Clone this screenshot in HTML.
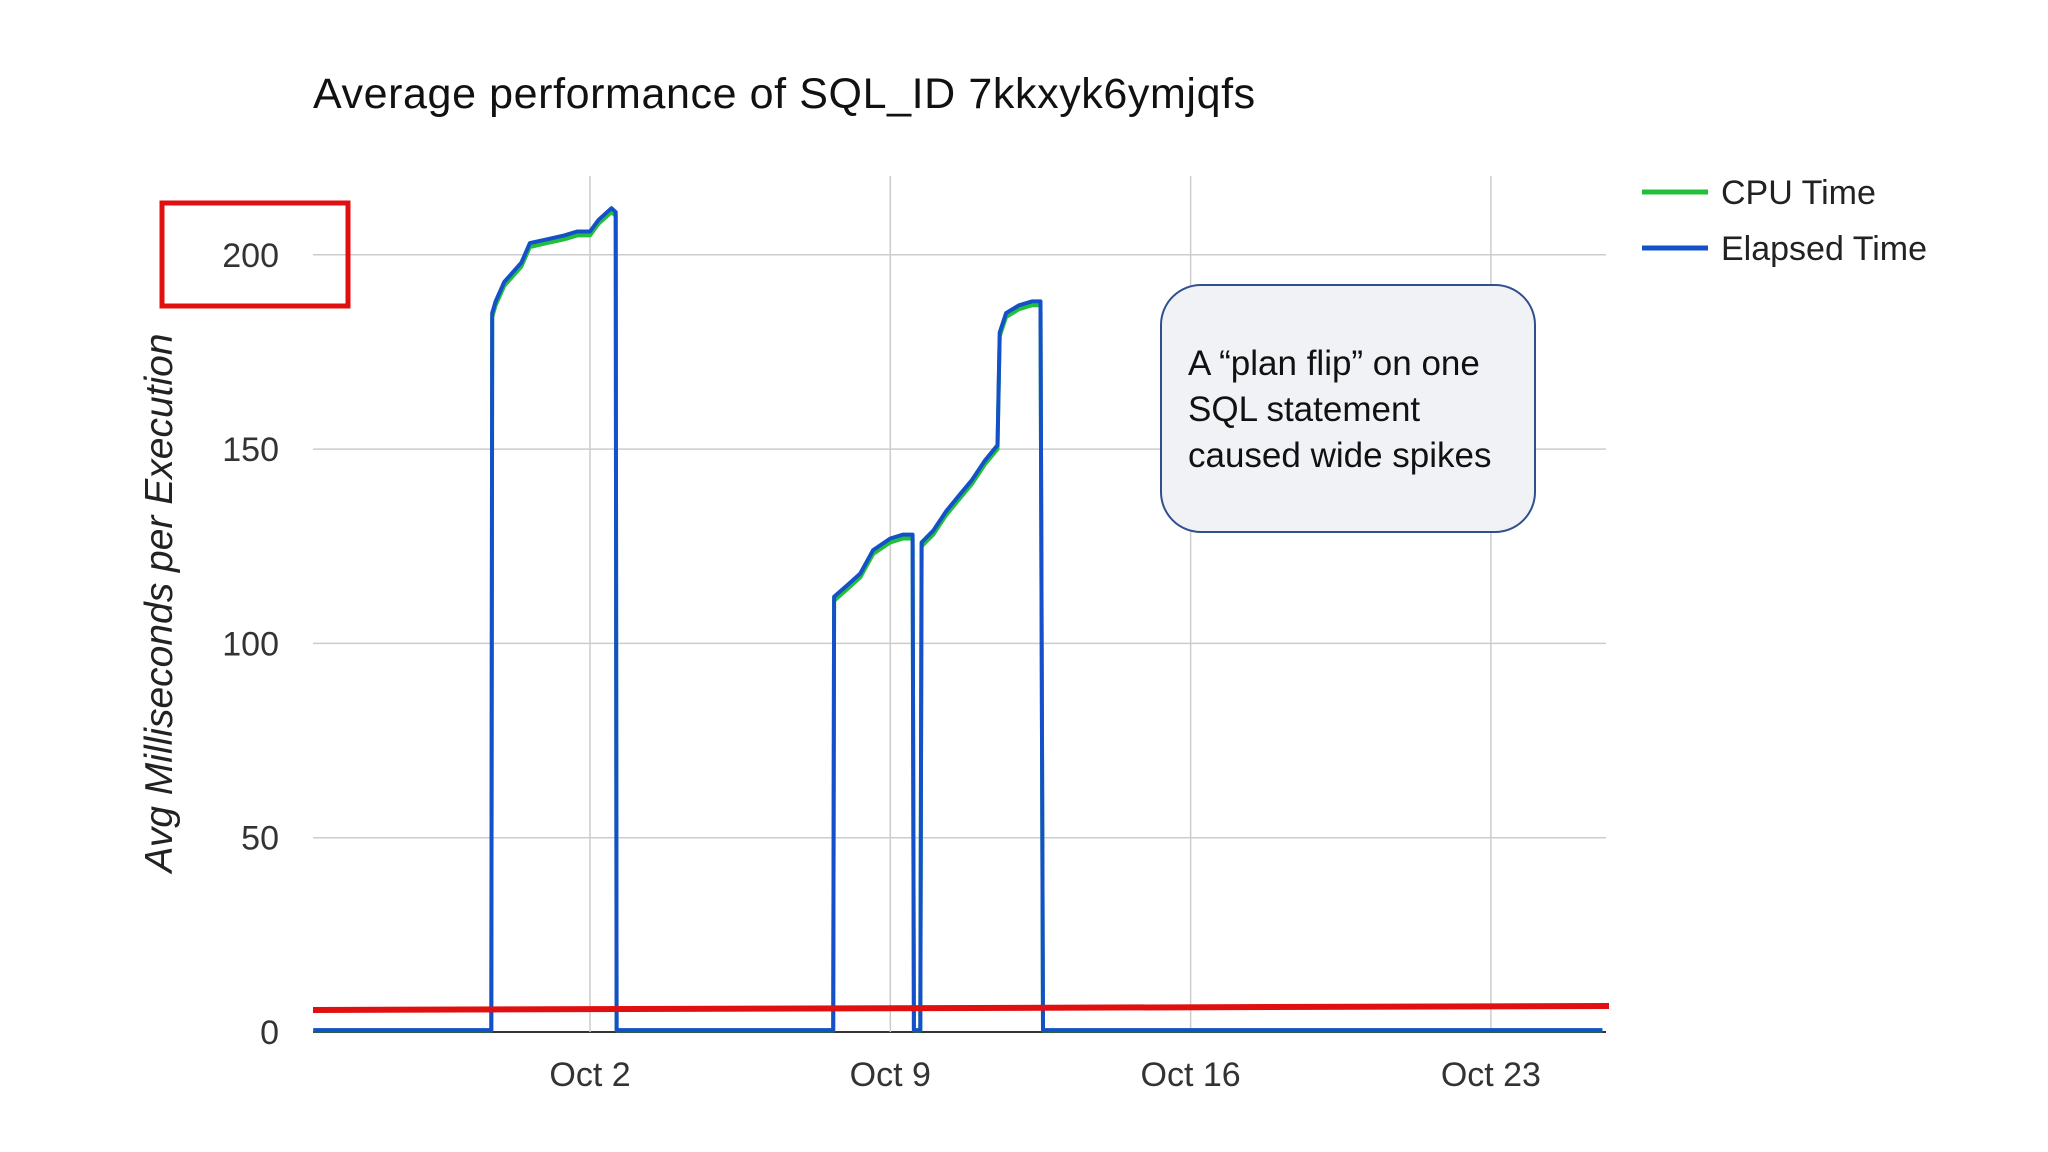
<!DOCTYPE html>
<html><head><meta charset="utf-8"><style>
html,body{margin:0;padding:0;background:#fff;}
svg{display:block;}
text{font-family:"Liberation Sans",Arial,sans-serif;}
</style></head><body>
<svg id="chart" width="2048" height="1152" viewBox="0 0 2048 1152">
<text x="313" y="108" font-size="43" letter-spacing="0.6" fill="#111">Average performance of SQL_ID 7kkxyk6ymjqfs</text>
<g id="grid"></g>
<g id="yticks"></g>
<g id="xticks"></g>
<text transform="translate(172,603) rotate(-90)" text-anchor="middle" font-size="39" font-style="italic" fill="#222">Avg Milliseconds per Execution</text>
<g id="series"></g>
<rect x="162" y="203" width="186" height="103" fill="none" stroke="#e01010" stroke-width="5"/>
<line x1="313" y1="1010" x2="1609" y2="1006" stroke="#e01010" stroke-width="6"/>
<g>
<line x1="1642" y1="192" x2="1708" y2="192" stroke="#22c03a" stroke-width="5"/>
<text x="1721" y="204" font-size="34" fill="#222">CPU Time</text>
<line x1="1642" y1="248" x2="1708" y2="248" stroke="#1450c8" stroke-width="5"/>
<text x="1721" y="260" font-size="34" fill="#222">Elapsed Time</text>
</g>
<g>
<rect x="1161" y="285" width="374" height="247" rx="40" fill="#f1f2f6" stroke="#2f4f8f" stroke-width="2"/>
<text font-size="35" fill="#111">
<tspan x="1188" y="375">A “plan flip” on one</tspan>
<tspan x="1188" y="421">SQL statement</tspan>
<tspan x="1188" y="467">caused wide spikes</tspan>
</text>
</g>
</svg>
<script>
const yTicks=[0,50,100,150,200];
const xTickDays=[0,7,14,21];
const xTickLabels=["Oct 2","Oct 9","Oct 16","Oct 23"];
const elapsedDays=[-6.45,-2.3,-2.28,-2.2,-2.0,-1.6,-1.4,-1.0,-0.6,-0.3,0.0,0.2,0.5,0.6,0.62,1.0,3.0,5.67,5.69,6.0,6.3,6.6,7.0,7.3,7.52,7.55,7.6,7.7,7.73,8.0,8.3,8.6,8.9,9.2,9.5,9.55,9.7,10.0,10.3,10.5,10.56,10.58,14,20,23.6];
const elapsedVals=[0.5,0.5,185,188,193,198,203,204,205,206,206,209,212,211,0.5,0.5,0.5,0.5,112,115,118,124,127,128,128,0.5,0.5,0.5,126,129,134,138,142,147,151,180,185,187,188,188,0.5,0.5,0.5,0.5,0.5];
const cpuDays=elapsedDays;
const cpuVals=[0.4,0.4,184,187,192,197,202,203,204,205,205,208,211,210,0.4,0.4,0.4,0.4,111,114,117,123,126,127,127,0.4,0.4,0.4,125,128,133,137,141,146,150,179,184,186,187,187,0.4,0.4,0.4,0.4,0.4];
const NS="http://www.w3.org/2000/svg";
const X0=313,X1=1606,Y0=176;
function xs(d){return 590+d*42.9;}
function ys(v){return 1032-v*3.886;}
const grid=document.getElementById('grid');
yTicks.forEach(v=>{
 const l=document.createElementNS(NS,'line');
 
 
 l.setAttribute('x1',X0);l.setAttribute('x2',X1);l.setAttribute('y1',ys(v));l.setAttribute('y2',ys(v));
 l.setAttribute('stroke',v===0?'#333':'#ccc');l.setAttribute('stroke-width',v===0?2:1.5);
 grid.appendChild(l);
 const t=document.createElementNS(NS,'text');
 
 
 t.setAttribute('x',279);t.setAttribute('y',ys(v)+12);t.setAttribute('text-anchor','end');
 t.setAttribute('font-size','34');t.setAttribute('fill','#333');t.textContent=v;
 document.getElementById('yticks').appendChild(t);
});
xTickDays.forEach((d,i)=>{
 const l=document.createElementNS(NS,'line');
 
 
 l.setAttribute('x1',xs(d));l.setAttribute('x2',xs(d));l.setAttribute('y1',Y0);l.setAttribute('y2',1032);
 l.setAttribute('stroke','#ccc');l.setAttribute('stroke-width',1.5);
 grid.appendChild(l);
 const t=document.createElementNS(NS,'text');
 
 
 t.setAttribute('x',xs(d));t.setAttribute('y',1086);t.setAttribute('text-anchor','middle');
 t.setAttribute('font-size','34');t.setAttribute('fill','#333');t.textContent=xTickLabels[i];
 document.getElementById('xticks').appendChild(t);
});
function drawLine(days,vals,color,w,name){
 const p=document.createElementNS(NS,'polyline');
 
 
 p.setAttribute('points',days.map((d,i)=>xs(d).toFixed(1)+','+ys(vals[i]).toFixed(1)).join(' '));
 p.setAttribute('fill','none');p.setAttribute('stroke',color);p.setAttribute('stroke-width',w);
 p.setAttribute('stroke-linejoin','round');
 document.getElementById('series').appendChild(p);
}
drawLine(cpuDays,cpuVals,'#22c03a',4,'cpu-time-line');
drawLine(elapsedDays,elapsedVals,'#1450c8',4,'elapsed-time-line');
</script>
</body></html>
